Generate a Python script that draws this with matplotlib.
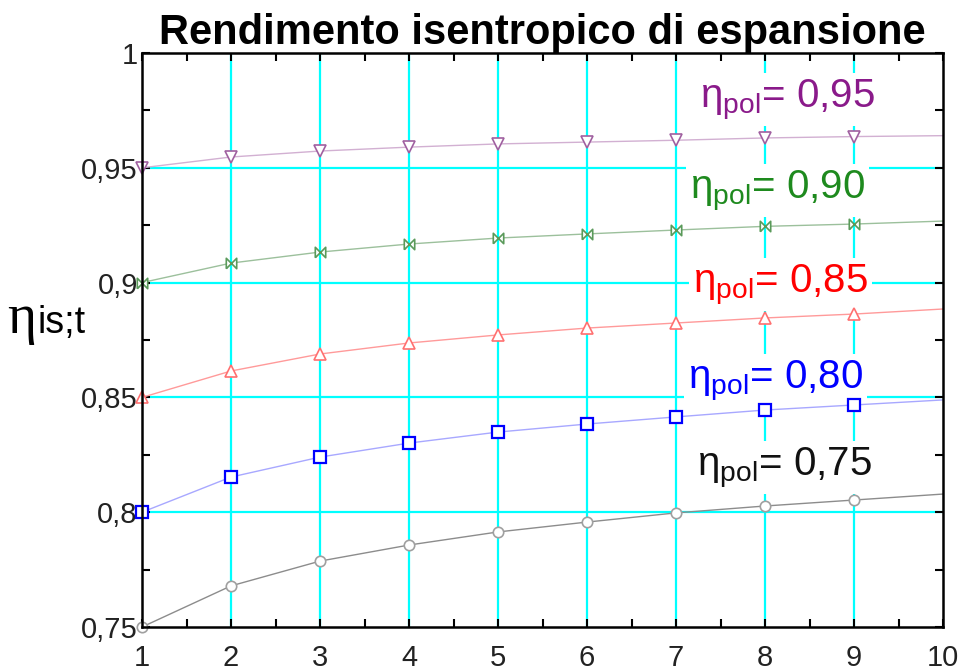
import matplotlib
matplotlib.use("Agg")
import matplotlib.pyplot as plt
from matplotlib.ticker import MultipleLocator, FixedLocator

plt.rcParams['font.family'] = ['Liberation Sans', 'DejaVu Sans']
plt.rcParams['mathtext.fontset'] = 'custom'
plt.rcParams['mathtext.rm'] = 'Liberation Sans'
plt.rcParams['mathtext.it'] = 'Liberation Sans:italic'
plt.rcParams['mathtext.bf'] = 'Liberation Sans:bold'

# ---- data ----
beta = [1, 2, 3, 4, 5, 6, 7, 8, 9, 10]
eta_095 = [0.950, 0.9547, 0.9573, 0.9590, 0.9604, 0.9612, 0.9620, 0.9630, 0.9636, 0.9640]
eta_090 = [0.900, 0.9085, 0.9133, 0.9168, 0.9194, 0.9212, 0.9229, 0.9245, 0.9255, 0.9268]
eta_085 = [0.850, 0.8615, 0.8689, 0.8737, 0.8772, 0.8802, 0.8824, 0.8846, 0.8863, 0.8885]
eta_080 = [0.800, 0.8153, 0.8240, 0.8301, 0.8349, 0.8384, 0.8415, 0.8445, 0.8467, 0.8489]
eta_075 = [0.750, 0.7679, 0.7787, 0.7857, 0.7914, 0.7957, 0.7997, 0.8027, 0.8053, 0.8079]
labels = ['0,95', '0,90', '0,85', '0,80', '0,75']
label_x = [7.27, 7.16, 7.19, 7.13, 7.24]
label_y = [0.9765, 0.9368, 0.8959, 0.8541, 0.8162]
x_ticks = [1, 2, 3, 4, 5, 6, 7, 8, 9, 10]
y_ticks = [0.75, 0.80, 0.85, 0.90, 0.95, 1.0]
y_tick_labels = ['0,75', '0,8', '0,85', '0,9', '0,95', '1']
title = 'Rendimento isentropico di espansione'

bowtie = [(-1, -1), (1, 1), (1, -1), (-1, 1), (-1, -1)]
styles = [
    dict(series=eta_095, lc='#d2b0d2', mc='#a060a0', marker='v', ms=8, mew=1.2, tc='#8a1a8a'),
    dict(series=eta_090, lc='#9cc09c', mc='#5a9a5a', marker=bowtie, ms=7.5, mew=1.2, tc='#1e8a1e'),
    dict(series=eta_085, lc='#ff9a9a', mc='#ff7070', marker='^', ms=8, mew=1.2, tc='#ff0000'),
    dict(series=eta_080, lc='#a8a8ff', mc='#0000ff', marker='s', ms=8.5, mew=1.6, tc='#0000ff'),
    dict(series=eta_075, lc='#8c8c8c', mc='#a0a0a0', marker='o', ms=7.5, mew=1.2, tc='#111111'),
]

fig = plt.figure(figsize=(9.61, 6.72), dpi=100)
ax = fig.add_axes([142/961, 45/672, (943-142)/961, (627-53)/672])

ax.set_xlim(1, 10)
ax.set_ylim(0.75, 1.0)

# grid
for gx in x_ticks[1:-1]:
    ax.axvline(gx, color='#00ffff', lw=1.6, zorder=1)
for gy in y_ticks[1:-1]:
    ax.axhline(gy, color='#00ffff', lw=1.6, zorder=1)

for st, lab, lx, ly in zip(styles, labels, label_x, label_y):
    ax.plot(beta, st['series'], color=st['lc'], lw=1.0, zorder=4,
            marker=st['marker'], ms=st['ms'], mfc='white', mec=st['mc'], mew=st['mew'],
            markevery=slice(0, 9), clip_on=False)
    ax.text(lx, ly, r'$\mathrm{\eta}_{\mathrm{pol}}$= ' + lab, color=st['tc'],
            fontsize=29, ha='left', va='baseline', zorder=3,
            bbox=dict(boxstyle='square,pad=0.1', fc='white', ec='none'))

ax.xaxis.set_major_locator(FixedLocator(x_ticks))
ax.yaxis.set_major_locator(FixedLocator(y_ticks))
ax.set_xticklabels([str(v) for v in x_ticks])
ax.set_yticklabels(y_tick_labels)
ax.xaxis.set_minor_locator(MultipleLocator(0.5))
ax.yaxis.set_minor_locator(MultipleLocator(0.025))
ax.tick_params(which='both', direction='in', top=True, right=True, color='black', width=1.5)
ax.tick_params(which='major', length=6, labelsize=21, labelcolor='#222222')
ax.tick_params(which='minor', length=6)
ax.tick_params(axis='x', which='major', pad=12)
ax.tick_params(axis='y', which='major', pad=3)
for sp in ax.spines.values():
    sp.set_linewidth(1.8)
    sp.set_zorder(5)

ax.set_title(title, fontsize=30, fontweight='bold', pad=2)
fig.text(7/961, 1 - 333/672, 'η', fontsize=40, family='Liberation Serif', ha='left', va='baseline')
fig.text(38/961, 1 - 333/672, 'is;t', fontsize=27, ha='left', va='baseline')

fig.savefig('out.png', dpi=100)
